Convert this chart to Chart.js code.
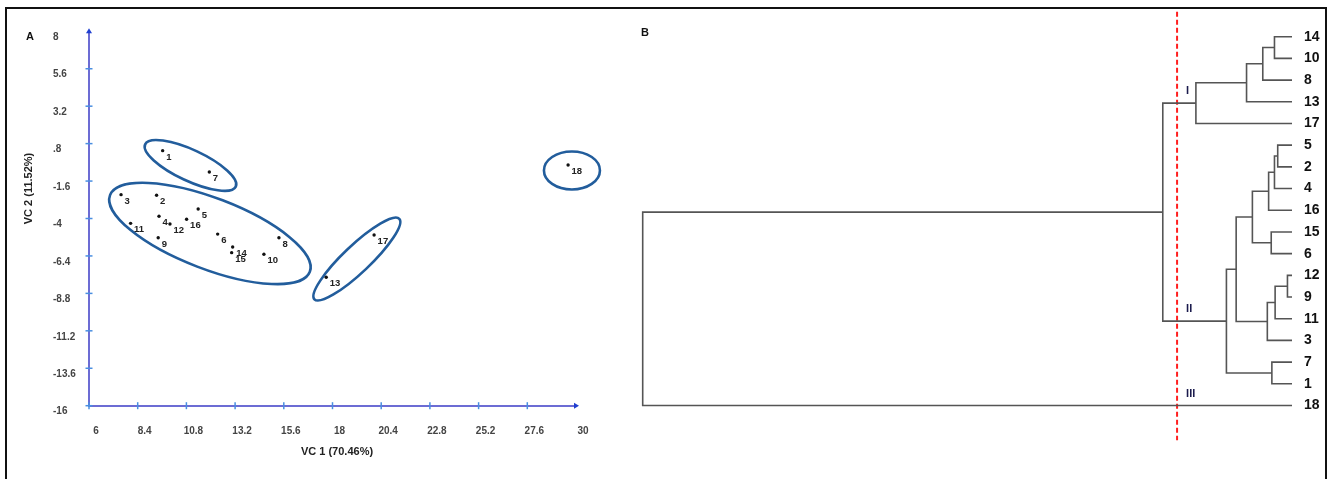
<!DOCTYPE html>
<html>
<head>
<meta charset="utf-8">
<script src="https://cdn.jsdelivr.net/npm/chart.js@4.4.1/dist/chart.umd.min.js"></script>
<style>
  html, body { margin: 0; padding: 0; background: #fff; }
  body { width: 1331px; height: 479px; position: relative; overflow: hidden; }
  #frame { position: absolute; left: 5px; top: 7px; width: 1318px; height: 490px; border: 2px solid #111; border-bottom: none; }
  #pcaChart { position: absolute; left: 8px; top: 10px; }
  #dendroChart { position: absolute; left: 622px; top: 10px; }
</style>
</head>
<body>
<div id="frame"></div>
<canvas id="pcaChart" width="612" height="460"></canvas>
<canvas id="dendroChart" width="700" height="460"></canvas>

<script>
// ---- panel A: principal components ----
const genotypes = ['1', '2', '3', '4', '5', '6', '7', '8', '9', '10', '11', '12', '13', '14', '15', '16', '17', '18']
const vc1 = [9.63, 9.33, 7.58, 9.45, 11.38, 12.34, 11.93, 15.36, 9.41, 14.62, 8.05, 9.99, 17.69, 13.08, 13.03, 10.81, 20.05, 29.61]
const vc2 = [0.35, -2.51, -2.47, -3.86, -3.39, -5.0, -1.02, -5.23, -5.23, -6.29, -4.31, -4.35, -7.77, -5.83, -6.19, -4.05, -5.06, -0.57]

const xTicks = [6, 8.4, 10.8, 13.2, 15.6, 18, 20.4, 22.8, 25.2, 27.6, 30]
const xTickLabels = ['6', '8.4', '10.8', '13.2', '15.6', '18', '20.4', '22.8', '25.2', '27.6', '30']
const yTicks = [-16, -13.6, -11.2, -8.8, -6.4, -4, -1.6, 0.8, 3.2, 5.6, 8]
const yTickLabels = ['-16', '-13.6', '-11.2', '-8.8', '-6.4', '-4', '-1.6', '.8', '3.2', '5.6', '8']

// group outlines: centre in data units
const groupCx = [11.0, 11.96, 19.2, 29.8]
const groupCy = [-0.6, -4.96, -6.6, -0.92]

// ---- panel B: dendrogram ----
const leafOrder = ['14', '10', '8', '13', '17', '5', '2', '4', '16', '15', '6', '12', '9', '11', '3', '7', '1', '18']
// merge k creates node 'c' + k
const mergeLeft = ['14', 'c0', 'c1', 'c2', '5', 'c4', 'c5', '15', 'c6', '12', 'c9', 'c10', 'c8', '7', 'c12', 'c3', 'c15']
const mergeRight = ['10', '8', '13', '17', '2', '4', '16', '6', 'c7', '9', '11', '3', 'c11', '1', 'c13', 'c14', '18']
const mergeHeight = [2.7, 4.5, 7.0, 14.8, 2.2, 2.7, 3.6, 3.2, 6.1, 0.7, 2.6, 3.8, 8.6, 3.1, 10.1, 19.9, 100]
const cutHeight = 17.7
const clusterNames = ['I', 'II', 'III']
const clusterNodes = ['c3', 'c14', '18']

const FONT = "'Liberation Sans', Arial, sans-serif"
const axisColor = '#6c6cd4'
const tickColor = '#4a8fe0'
const ringColor = '#225d9c'

// ellipse shapes in pixels (semi axes + tilt)
const ringShape = [
  { a: 50, b: 15.5, deg: 25 },
  { a: 107, b: 35.5, deg: 21 },
  { a: 58.5, b: 13.5, deg: -43.5 },
  { a: 28, b: 19, deg: 0 }
]

const pcaDecor = {
  id: 'pcaDecor',
  beforeDatasetsDraw(chart) {
    const { ctx, scales: { x, y } } = chart
    ctx.save()
    ctx.strokeStyle = ringColor
    ctx.lineWidth = 2.6
    groupCx.forEach((cx, i) => {
      const s = ringShape[i]
      ctx.beginPath()
      ctx.ellipse(x.getPixelForValue(cx), y.getPixelForValue(groupCy[i]), s.a, s.b, s.deg * Math.PI / 180, 0, Math.PI * 2)
      ctx.stroke()
    })
    ctx.restore()
  },
  afterDatasetsDraw(chart) {
    const { ctx, chartArea, scales: { x, y } } = chart
    const x0 = chartArea.left
    const y0 = chartArea.bottom
    ctx.save()

    // tick crosses
    ctx.strokeStyle = tickColor
    ctx.lineWidth = 1.5
    yTicks.slice(0, -1).forEach(v => {
      const py = y.getPixelForValue(v)
      ctx.beginPath(); ctx.moveTo(x0 - 3.5, py); ctx.lineTo(x0 + 3.5, py); ctx.stroke()
    })
    xTicks.slice(0, -1).forEach(v => {
      const px = x.getPixelForValue(v)
      ctx.beginPath(); ctx.moveTo(px, y0 - 3.5); ctx.lineTo(px, y0 + 3.5); ctx.stroke()
    })

    // arrow heads
    ctx.fillStyle = '#1f3fd0'
    ctx.beginPath()
    ctx.moveTo(x0, chartArea.top - 3); ctx.lineTo(x0 - 3, chartArea.top + 2); ctx.lineTo(x0 + 3, chartArea.top + 2)
    ctx.fill()
    ctx.beginPath()
    ctx.moveTo(chartArea.right + 3, y0); ctx.lineTo(chartArea.right - 2, y0 - 3); ctx.lineTo(chartArea.right - 2, y0 + 3)
    ctx.fill()

    // point labels
    ctx.fillStyle = '#222'
    ctx.font = `bold 9.5px ${FONT}`
    ctx.textAlign = 'left'
    ctx.textBaseline = 'middle'
    genotypes.forEach((g, i) => {
      ctx.fillText(g, x.getPixelForValue(vc1[i]) + 3.5, y.getPixelForValue(vc2[i]) + 6.5)
    })

    // panel tag and axis titles
    ctx.fillStyle = '#111'
    ctx.font = `bold 11px ${FONT}`
    ctx.fillText('A', 18, 26.5)
    ctx.textAlign = 'center'
    ctx.fillStyle = '#222'
    ctx.fillText('VC 1 (70.46%)', 329, 442)
    ctx.translate(20.5, 178.5)
    ctx.rotate(-Math.PI / 2)
    ctx.fillText('VC 2 (11.52%)', 0, 0)
    ctx.restore()
  }
}

new Chart(document.getElementById('pcaChart'), {
  type: 'scatter',
  data: {
    datasets: [{
      data: vc1.map((v, i) => ({ x: v, y: vc2[i] })),
      pointRadius: 1.7,
      pointBackgroundColor: '#111',
      pointBorderWidth: 0
    }]
  },
  options: {
    responsive: false,
    animation: false,
    layout: { padding: { left: 45, top: 21.3, right: 44, bottom: 0 } },
    plugins: { legend: { display: false }, tooltip: { enabled: false } },
    scales: {
      x: {
        type: 'linear',
        min: 6,
        max: 30,
        afterBuildTicks: s => { s.ticks = xTicks.map(v => ({ value: v })) },
        afterFit: s => { s.height = 64.3 },
        grid: { display: false },
        border: { color: axisColor, width: 2 },
        ticks: {
          callback: (v, i) => xTickLabels[i],
          padding: 12,
          labelOffset: 7,
          maxRotation: 0,
          autoSkip: false,
          color: '#444',
          font: { family: FONT, size: 10, weight: 'bold' }
        }
      },
      y: {
        type: 'linear',
        min: -16,
        max: 8,
        afterBuildTicks: s => { s.ticks = yTicks.map(v => ({ value: v })) },
        afterFit: s => { s.width = 36 },
        grid: { display: false },
        border: { color: axisColor, width: 2 },
        ticks: {
          callback: (v, i) => yTickLabels[i],
          crossAlign: 'far',
          labelOffset: 6,
          autoSkip: false,
          color: '#444',
          font: { family: FONT, size: 10, weight: 'bold' }
        }
      }
    }
  },
  plugins: [pcaDecor]
})

// ---- dendrogram ----
const nodePos = {}
leafOrder.forEach((name, i) => { nodePos[name] = { x: 0, y: i } })
const links = mergeLeft.map((a, k) => {
  const A = nodePos[a]
  const B = nodePos[mergeRight[k]]
  const h = mergeHeight[k]
  nodePos['c' + k] = { x: h, y: (A.y + B.y) / 2 }
  return [{ x: A.x, y: A.y }, { x: h, y: A.y }, { x: h, y: B.y }, { x: B.x, y: B.y }]
})

const dendroDecor = {
  id: 'dendroDecor',
  afterDatasetsDraw(chart) {
    const { ctx, scales: { x, y } } = chart
    ctx.save()
    ctx.fillStyle = '#111'
    ctx.font = `bold 11px ${FONT}`
    ctx.textBaseline = 'middle'
    ctx.fillText('B', 19, 22.5)
    ctx.fillStyle = '#1b1b4d'
    const cx = x.getPixelForValue(cutHeight) + 9
    clusterNodes.forEach((n, i) => {
      ctx.fillText(clusterNames[i], cx, y.getPixelForValue(nodePos[n].y - 0.55))
    })
    ctx.restore()
  }
}

new Chart(document.getElementById('dendroChart'), {
  type: 'scatter',
  data: {
    datasets: links.map(data => ({
      data,
      showLine: true,
      pointRadius: 0,
      borderColor: '#555',
      borderWidth: 1.6,
      tension: 0,
      clip: false
    })).concat([{
      data: [{ x: cutHeight, y: -1.15 }, { x: cutHeight, y: 18.6 }],
      showLine: true,
      pointRadius: 0,
      borderColor: '#ff1f1f',
      borderWidth: 2,
      borderDash: [5, 3],
      clip: false
    }])
  },
  options: {
    responsive: false,
    animation: false,
    layout: { padding: { left: 20.7, top: 26.7, right: 0, bottom: 64.5 } },
    plugins: { legend: { display: false }, tooltip: { enabled: false } },
    scales: {
      x: { type: 'linear', min: 0, max: 100, reverse: true, display: false },
      y: {
        type: 'linear',
        position: 'right',
        min: 0,
        max: 17,
        reverse: true,
        afterBuildTicks: s => { s.ticks = leafOrder.map((_, i) => ({ value: i })) },
        afterFit: s => { s.width = 30 },
        grid: { display: false },
        border: { display: false },
        ticks: {
          callback: (v, i) => leafOrder[i],
          padding: 4,
          autoSkip: false,
          color: '#111',
          font: { family: FONT, size: 14, weight: 'bold' }
        }
      }
    }
  },
  plugins: [dendroDecor]
})
</script>
</body>
</html>
